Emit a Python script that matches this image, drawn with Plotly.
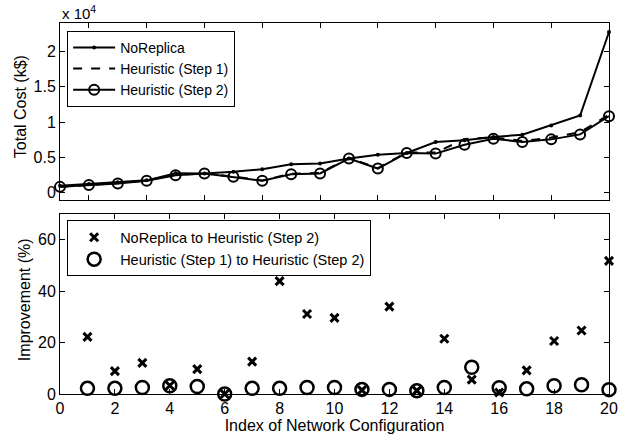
import plotly.graph_objects as go

idx = list(range(1, 21))
no_replica = [1000, 1250, 1500, 1770, 2770, 2740, 2970, 3340, 4050, 4140,
              4850, 5400, 5640, 7190, 7420, 7890, 8220, 9520, 10930, 22730]
heur_step1 = [870, 1125, 1365, 1765, 2575, 2740, 2320, 1750, 2710, 2810,
              4940, 3500, 5710, 5690, 7600, 7840, 7340, 7810, 8570, 11030]
heur_step2 = [850, 1100, 1330, 1710, 2500, 2740, 2270, 1710, 2640, 2740,
              4850, 3440, 5640, 5550, 6810, 7650, 7190, 7560, 8260, 10840]
imp_noreplica = [22.2, 8.9, 12.1, 3.3, 9.7, 0.0, 12.6, 43.9, 31.1, 29.6,
                 1.5, 34.0, 1.3, 21.5, 5.6, 0.6, 9.2, 20.6, 24.7, 51.8]
imp_step1 = [2.2, 2.2, 2.5, 3.2, 2.9, 0.0, 2.2, 2.2, 2.5, 2.5,
             1.8, 1.8, 1.3, 2.5, 10.4, 2.4, 2.0, 3.2, 3.6, 1.7]

top_yticks = [0, 5000, 10000, 15000, 20000]
top_yticktext = ["0", "0.5", "1", "1.5", "2"]

FONT = "Liberation Sans, Arial, Helvetica, sans-serif"

fig = go.Figure()
fig.add_trace(go.Scatter(x=idx, y=no_replica, mode="lines+markers", name="NoReplica",
                         line=dict(color="black", width=2),
                         marker=dict(symbol="circle", size=4, color="black"),
                         cliponaxis=False, xaxis="x", yaxis="y", legend="legend"))
fig.add_trace(go.Scatter(x=idx, y=heur_step1, mode="lines", name="Heuristic (Step 1)",
                         line=dict(color="black", width=2, dash="dash"),
                         cliponaxis=False, xaxis="x", yaxis="y", legend="legend"))
fig.add_trace(go.Scatter(x=idx, y=heur_step2, mode="lines+markers", name="Heuristic (Step 2)",
                         line=dict(color="black", width=2),
                         marker=dict(symbol="circle-open", size=10, color="black",
                                     line=dict(width=2, color="black")),
                         cliponaxis=False, xaxis="x", yaxis="y", legend="legend"))
fig.add_trace(go.Scatter(x=idx, y=imp_noreplica, mode="markers",
                         name="NoReplica to Heuristic (Step 2)",
                         marker=dict(symbol="x-thin", size=8, color="black",
                                     line=dict(width=3, color="black")),
                         cliponaxis=False, xaxis="x2", yaxis="y2", legend="legend2"))
fig.add_trace(go.Scatter(x=idx, y=imp_step1, mode="markers",
                         name="Heuristic (Step 1) to Heuristic (Step 2)",
                         marker=dict(symbol="circle-open", size=13, color="black",
                                     line=dict(width=2.5, color="black")),
                         cliponaxis=False, xaxis="x2", yaxis="y2", legend="legend2"))

axis_common = dict(showline=True, linecolor="black", linewidth=1, mirror="ticks",
                   ticks="inside", ticklen=5, tickcolor="black", showgrid=False,
                   zeroline=False, tickfont=dict(size=16, color="black"))

fig.update_layout(
    width=630, height=442,
    margin=dict(l=60, r=18, t=23, b=45),
    paper_bgcolor="white", plot_bgcolor="white",
    font=dict(family=FONT, color="black", size=16),
    xaxis=dict(domain=[0, 1], range=[1, 20], anchor="y",
               tickvals=list(range(2, 21, 2)), showticklabels=False, **axis_common),
    yaxis=dict(domain=[0.523, 1], range=[-1000, 24000], anchor="x",
               tickvals=top_yticks, ticktext=top_yticktext, **axis_common),
    xaxis2=dict(domain=[0, 1], range=[0, 20], anchor="y2", dtick=2, tick0=0,
                title=dict(text="Index of Network Configuration", font=dict(size=16), standoff=2),
                **axis_common),
    yaxis2=dict(domain=[0, 0.485], range=[0, 70], anchor="x2",
                tickvals=[0, 20, 40, 60], **axis_common),
    legend=dict(x=0.013, y=0.979, xanchor="left", yanchor="top",
                bordercolor="black", borderwidth=1, bgcolor="white",
                font=dict(size=14, color="black"), tracegroupgap=0, itemwidth=42),
    legend2=dict(x=0.013, y=0.468, xanchor="left", yanchor="top",
                 bordercolor="black", borderwidth=1, bgcolor="white",
                 font=dict(size=14.5, color="black"), tracegroupgap=0, itemwidth=42),
    showlegend=True,
    annotations=[
        dict(text="x 10<sup>4</sup>", x=0, y=1, xref="paper", yref="paper",
             xanchor="left", yanchor="bottom", showarrow=False,
             font=dict(size=15, color="black"), yshift=-1),
        dict(text="Total Cost (k$)", x=0, y=0.773, xref="paper", yref="paper",
             xanchor="center", yanchor="middle", textangle=-90, xshift=-40,
             showarrow=False, font=dict(size=16, color="black")),
        dict(text="Improvement (%)", x=0, y=0.253, xref="paper", yref="paper",
             xanchor="center", yanchor="middle", textangle=-90, xshift=-36,
             showarrow=False, font=dict(size=16, color="black")),
    ],
)

fig.write_html("out.html", config={"displayModeBar": False},
               post_script="document.body.style.margin='0px';")
